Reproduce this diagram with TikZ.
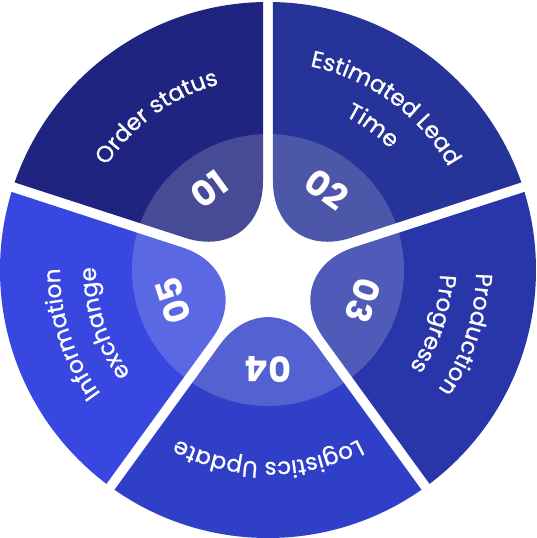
\documentclass[tikz,border=0pt]{standalone}
\usepackage{fontspec}
\setmainfont{Poppins}
\newfontface\lblface{Poppins}[FakeBold=0.8]
\usetikzlibrary{math, calc, decorations.text}
\definecolor{secA}{HTML}{1F2480}
\definecolor{secB}{HTML}{263398}
\definecolor{secC}{HTML}{2936AA}
\definecolor{secD}{HTML}{2F3FC8}
\definecolor{secE}{HTML}{3747DF}
\newcommand{\lblfont}{\color{white}\lblface\fontsize{23}{23}\selectfont}

\begin{document}
\begin{tikzpicture}[x=1pt,y=1pt,
  numtext/.style={text=white, font=\bfseries\fontsize{35}{35}\selectfont, inner sep=0pt},
  ringfill/.style={fill=white, fill opacity=0.18},
  arclabel/.style={decorate, decoration={text along path, text align=center, text={|\lblfont|#1}}}]
\tikzmath{
\R=268;
\rr=136;
\tip=8.5;
\far=450;
\rnd=81.5;
}
\useasboundingbox (-268,-268) rectangle (269,270);

% sectors, apex rounded, cut by outer circle
\begin{scope}
\clip (0,0) circle(\R);
\foreach \th/\col in {126/secA, 54/secB, -18/secC, -90/secD, 198/secE}{
  \coordinate (A) at (\th:\tip);
  \fill[\col, rounded corners=\rnd] ($(A)+(\th-36:\far)$) -- (A) -- ($(A)+(\th+36:\far)$) -- cycle;
}
\end{scope}

% light ring
\fill[ringfill] (0,0) circle(\rr);

% numbers
\node[numtext, rotate=36] (n01) at (126:100) {01};
\node[numtext, rotate=-36] (n02) at (54:100) {02};
\node[numtext, rotate=-108] (n03) at (-18:100) {03};
\node[numtext, rotate=-180] (n04) at (-90:100) {04};
\node[numtext, rotate=108] (n05) at (198:100) {05};

% labels along arcs
\path[arclabel={Order status}] (206:192) arc[start angle=206, end angle=46, radius=192];
\path[arclabel={Estimated Lead}] (134:208) arc[start angle=134, end angle=-26, radius=208];
\path[arclabel={Time}] (134:172) arc[start angle=134, end angle=-26, radius=172];
\path[arclabel={Production}] (62:208) arc[start angle=62, end angle=-98, radius=208];
\path[arclabel={Progress}] (62:172) arc[start angle=62, end angle=-98, radius=172];
\path[arclabel={Logistics Update}] (-10:192) arc[start angle=-10, end angle=-170, radius=192];
\path[arclabel={Information}] (278:208) arc[start angle=278, end angle=118, radius=208];
\path[arclabel={exchange}] (278:172) arc[start angle=278, end angle=118, radius=172];
\end{tikzpicture}
\end{document}
